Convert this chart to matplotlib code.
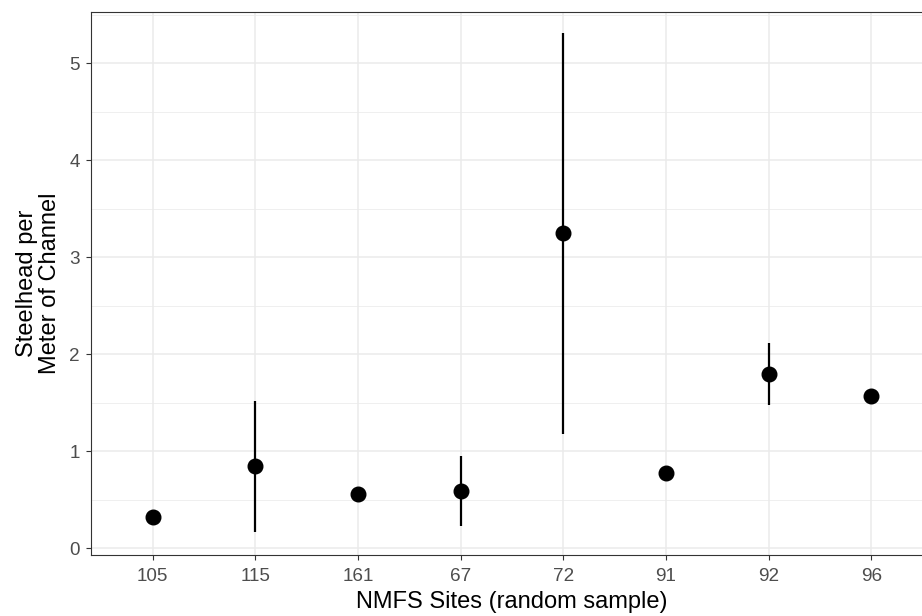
import matplotlib.pyplot as plt
from matplotlib.ticker import MultipleLocator

# --- data ---
sites = ["105", "115", "161", "67", "72", "91", "92", "96"]
density = [0.32, 0.85, 0.56, 0.59, 3.25, 0.78, 1.80, 1.57]
lower = [0.31, 0.17, 0.55, 0.23, 1.18, 0.77, 1.48, 1.53]
upper = [0.33, 1.52, 0.57, 0.95, 5.31, 0.79, 2.12, 1.62]

plt.rcParams['font.family'] = ['Liberation Sans', 'DejaVu Sans']

fig = plt.figure(figsize=(9.22, 6.16), dpi=100)
# panel runs a bit past the right edge, as in the reference
ax = fig.add_axes([91 / 922, 1 - 555 / 616, 842 / 922, 543 / 616])

x = list(range(len(sites)))
ax.vlines(x, lower, upper, color='black', linewidth=1.6, zorder=3)
ax.plot(x, density, 'o', color='black', markersize=10.5, zorder=4)

# --- ggplot theme_bw look ---
ax.set_xlim(-0.6, len(sites) - 0.4)
ax.set_ylim(-0.068, 5.53)
ax.set_xticks(x)
ax.set_xticklabels(sites)
ax.yaxis.set_major_locator(MultipleLocator(1))
ax.yaxis.set_minor_locator(MultipleLocator(0.5))
ax.grid(which='major', color='#EBEBEB', linewidth=1.1, zorder=0)
ax.grid(which='minor', axis='y', color='#EBEBEB', linewidth=0.55, zorder=0)
ax.set_axisbelow(True)
ax.tick_params(which='major', length=3.6, width=0.8, color='#333333',
               labelsize=13.6, labelcolor='#4D4D4D')
ax.tick_params(axis='x', which='major', pad=5.5)
ax.tick_params(axis='y', which='major', pad=4.5)
ax.tick_params(which='minor', length=0)
for s in ax.spines.values():
    s.set_color('#333333')
    s.set_linewidth(0.8)

ax.set_xlabel("NMFS Sites (random sample)", fontsize=17, labelpad=4.5)
ax.set_ylabel("Steelhead per\nMeter of Channel", fontsize=17, labelpad=5.5,
              linespacing=1.08)

fig.savefig("out.png", dpi=100)
